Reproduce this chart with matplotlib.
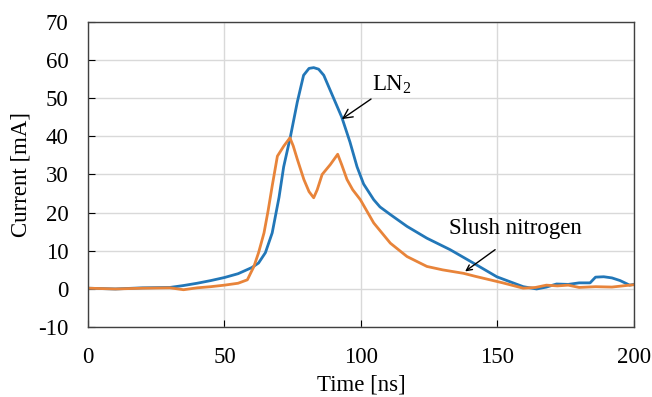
import numpy as np
import matplotlib.pyplot as plt

plt.rcParams["font.family"] = ["Liberation Serif", "DejaVu Serif"]
plt.rcParams["mathtext.fontset"] = "custom"
plt.rcParams["mathtext.rm"] = "Liberation Serif"
plt.rcParams["axes.unicode_minus"] = False

# LN2 current trace
t_ln2 = [0, 10, 20, 30, 35, 40, 45, 50, 55, 60, 62.5, 65, 67.5, 70, 71.7, 74.2, 76.7,
         79, 81, 82.7, 84.5, 86.4, 90, 93, 96, 98.6, 101, 104.7, 107, 110.8, 116.9,
         124.2, 132.7, 141.2, 149.8, 155, 159.5, 164.4, 168, 171.7, 176, 180, 184,
         186, 189, 192, 195, 198.5, 200]
i_ln2 = [0.2, 0.0, 0.3, 0.4, 0.9, 1.5, 2.2, 3.0, 4.0, 5.6, 6.8, 9.5, 14.7, 24, 32, 40, 49,
         56, 57.8, 58, 57.6, 56, 50, 45, 38.5, 32, 27.5, 23.4, 21.5, 19.5, 16.4,
         13.3, 10.3, 6.8, 3.2, 1.8, 0.6, 0.0, 0.5, 1.3, 1.2, 1.6, 1.6,
         3.1, 3.2, 2.9, 2.2, 1.0, 1.2]

# slush nitrogen current trace
t_slush = [0, 10, 20, 30, 35, 40, 45, 50, 55, 58.4, 60.8, 62.5, 64.5, 66, 67.5, 69.4,
           71.8, 74, 75.2, 76.7, 79.1, 81, 82.7, 84, 85.8, 88.8, 91.5, 93, 94.9, 97,
           99.8, 104.7, 110.8, 116.9, 124.2, 130, 137.6, 142, 147.3, 152, 159.5, 164,
           168, 172, 176, 180, 186, 192, 198.5, 200]
i_slush = [0.2, 0.0, 0.2, 0.3, -0.2, 0.3, 0.6, 1.0, 1.5, 2.4, 5.9, 9.5, 14.7, 20.5, 27, 34.8,
           37.5, 39.6, 37.5, 34, 28.7, 25.5, 23.9, 26, 30, 32.6, 35.3, 32.5, 28.7, 26,
           23.4, 17.3, 12, 8.5, 5.9, 5.0, 4.1, 3.3, 2.4, 1.6, 0.2, 0.4,
           1.0, 0.8, 1.0, 0.4, 0.6, 0.5, 1.0, 1.1]

fig = plt.figure(figsize=(6.52, 3.97), dpi=100)
ax = fig.add_axes([0.135, 0.176, 0.837, 0.769])

ax.plot(t_ln2, i_ln2, color="#2277B8", linewidth=2.0)
ax.plot(t_slush, i_slush, color="#E8843A", linewidth=2.0)

ax.set_xlim(0, 200)
ax.set_ylim(-10, 70)
ax.set_xticks([0, 50, 100, 150, 200])
ax.set_yticks(range(-10, 71, 10))
ax.grid(color="#D9D9D9", linewidth=1.0)
ax.set_axisbelow(True)
ax.tick_params(direction="in", length=5, labelsize=16.5)
ax.tick_params(axis="x", pad=14)
ax.tick_params(axis="y", pad=14)
for s in ax.spines.values():
    s.set_color("#404040")
    s.set_linewidth(1.0)

ax.set_xlabel("Time [ns]", fontsize=16.5, labelpad=5)
ax.set_ylabel("Current [mA]", fontsize=16.5, labelpad=5)

ax.annotate("LN$_2$", xy=(93, 44.5), xytext=(104, 50.5), fontsize=16.5,
            ha="left", va="bottom",
            arrowprops=dict(arrowstyle="->", color="black", lw=1.0, shrinkA=0, shrinkB=0))
ax.annotate("Slush nitrogen", xy=(138.2, 4.6), xytext=(156.7, 15.8), fontsize=16.5,
            ha="center", va="center")
ax.annotate("", xy=(138.2, 4.6), xytext=(149.2, 10.3),
            arrowprops=dict(arrowstyle="->", color="black", lw=1.0, shrinkA=0, shrinkB=0))

fig.savefig("out.png", dpi=100)
